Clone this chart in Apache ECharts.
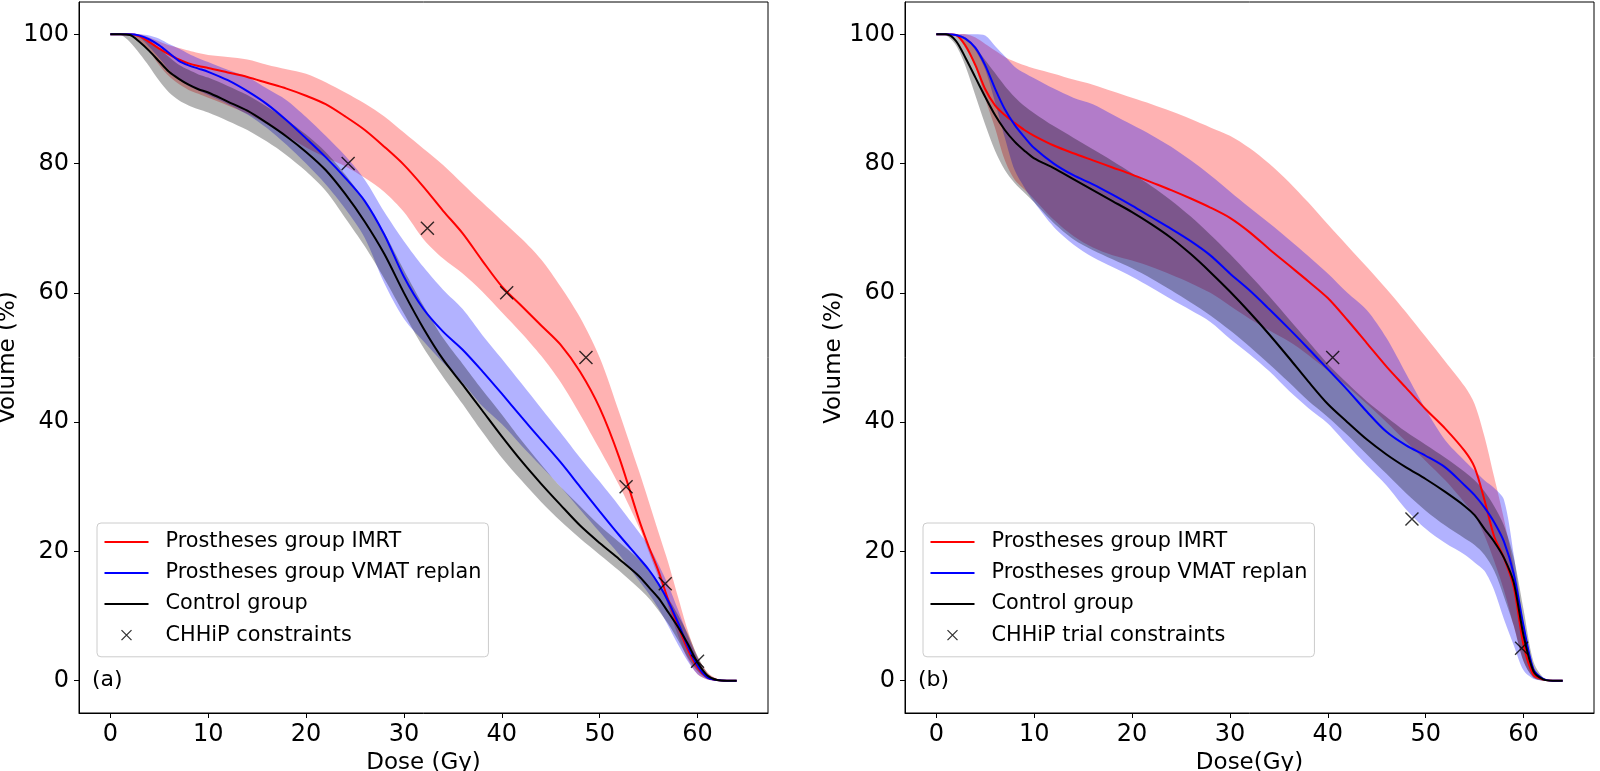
<!DOCTYPE html>
<html>
<head>
<meta charset="utf-8">
<script src="https://cdn.jsdelivr.net/npm/echarts@6/dist/echarts.min.js"></script>
<style>
html,body{margin:0;padding:0;background:#fff;}
#chart{width:1600px;height:771px;}
</style>
</head>
<body>
<div id="chart"></div>
<script>
// ---------- DATA ----------
const dose = [0,1,2,3,4,5,6,7,8,9,10,12,14,16,18,20,22,24,26,28,30,32,34,36,38,40,42,44,46,48,50,52,54,55,56,57,58,59,60,61,62,63,64];

const xTickValues = [0,10,20,30,40,50,60];
const yTickValues = [0,20,40,60,80,100];

// Panel (a)
const aImrtMean  = [100,100,100,99.7,98.8,97.8,96.9,96.1,95.5,95.1,94.8, 94.1,93.4,92.5,91.6,90.5,89.2,87.3,85.2,82.6,79.8,76.4,72.7,69.2,65,61,58,55,52,47.8,42.2,34.5,25, 20.8,17,12.5,8.5,4.8,2,0.5,0.1,0,0];
const aImrtUpper = [100,100,100,100,99.5,98.9,98.3,97.9,97.5,97.1,96.8, 96.5,96.1,95.3,94.6,93.9,92.6,91,89.3,87.3,84.8,82.3,79.8,76.9,74,71.2,68.4,65.2,61,56.2,50,41.5,32.5, 27.8,23,18.3,13,7.8,3.7,1.3,0.3,0,0];
const aImrtLower = [100,100,100,99,97.3,95.2,93.5,92.3,91.4,90.8,90.2, 89,87.7,86.1,84.3,82.5,81,79.6,77.8,75.6,72.5,68.3,65.3,63,60.2,57,53.8,50.3,46.2,41.2,35.8,30.2,23.8, 20,16,11.5,7,3.3,1,0.2,0,0,0];

const aVmatMean  = [100,100,100,99.8,99.2,98.3,97.1,95.9,95.2,94.7,94.2, 92.9,91.2,89.2,86.7,83.9,81,77.8,74.2,69,62.5,57.5,54,51.2,47.9,44.4,40.8,37.3,33.8,30,26.2,22.5,19, 17.2,15,12.3,9,5.3,2.3,0.5,0.1,0,0];
const aVmatUpper = [100,100,100,100,99.8,99.3,98.5,97.8,97,96.3,95.7, 94.5,93.4,91.6,89.8,87.2,84.3,81.2,77.5,72.5,68,64,60.5,57.5,53.5,49.8,46,42.2,38.4,34.5,30.8,27,23, 20.9,18,14.8,11,7,3.5,0.8,0.1,0,0];
const aVmatLower = [100,100,100,99.5,98,96.3,94.5,93,92,91.3,90.6, 89.2,87.6,85.5,82.9,80,76.8,73,68.5,61.5,56,52.5,49.2,46.1,42.5,39.7,36.4,33.2,30,26.5,23,19.5,15.5, 13.5,11.2,8.5,5.6,3,1,0.2,0,0,0];

const aCtrlMean  = [100,100,99.9,98.8,97.4,95.8,94.2,93.1,92.2,91.5,91, 89.6,88.2,86.3,84.2,81.8,79,75.3,71,66,60,54.5,49.7,45.8,41.8,37.8,34,30.5,27.2,24,21.3,18.8,16.2, 14.5,12.8,10.6,8.3,5.7,2.8,0.8,0.1,0,0];
const aCtrlUpper = [100,100,100,99.8,99,97.8,96.5,95.3,94.5,93.8,93.3, 92,90.6,88.8,86.8,84.5,81.8,78.3,74.2,69.3,63.5,58,53,49,45,41.2,37.2,33.5,30,27,24,21.4,18.8, 17.2,15.2,12.8,10.2,7.3,3.8,1.2,0.2,0,0];
const aCtrlLower = [100,100,98.8,97,95,92.8,91,89.8,89,88.4,87.9, 86.6,85.2,83.4,81.3,78.8,75.8,71.6,67.2,62.2,56.8,51.5,47,42.8,38.5,34.5,31,27.7,24.7,22,19.5,17,14.3, 12.8,10.9,8.8,6.3,3.6,1.5,0.3,0,0,0];

const aConstraintDose = [24.3,32.4,40.5,48.6,52.7,56.7,60];
const aConstraintVol  = [80,70,60,50,30,15,3];

// Panel (b)
const bImrtMean  = [100,100,99.9,98.2,95.2,91.5,89,87.5,86.3,85.2,84.3, 82.8,81.6,80.5,79.4,78.3,77.1,75.9,74.6,73.2,71.6,69.4,66.8,64.3,61.8,59.2,55.8,52.2,48.6,45.3,42,39,35.5, 33,28,22.3,19,14.5,5.5,0.9,0.2,0,0];
const bImrtUpper = [100,100,100,100,99.5,98.5,97.5,96.5,95.8,95.2,94.7, 93.9,93,92.2,91.2,90.2,89.2,88.1,86.9,85.6,84.3,82.4,80,77.2,74,70.6,67.3,64,60.6,57,53.2,49.4,45.5, 42.8,37.8,31.5,25,17.5,8,2,0.3,0,0];
const bImrtLower = [100,100,99.8,97.8,95,90,85.5,80.5,77.5,76,74.5, 71.3,68.8,67,65.8,65,64,62.8,61.5,60,58,56,54.2,52.5,50.4,48,45.5,42.8,40,37,34,31,27.5, 25.5,22.5,18.5,14,8.5,3,0.5,0,0,0];

const bVmatMean  = [100,100,99.9,99.3,97.9,95.2,91.6,88.4,86,84.1,82.4, 80,78.2,76.8,75.2,73.5,71.7,69.9,68,65.8,63,60.4,57.5,54.5,51.4,48.2,45,41.6,38.5,36.4,34.8,33,30.2, 28.7,26.8,24.5,21.5,16.5,8.5,1.8,0.3,0,0];
const bVmatUpper = [100,100,100,100,100,99.8,98.2,96.6,95,94,93.2, 91.6,90.2,89.2,87.6,86,84.4,82.6,80.5,78.2,75.7,73.2,70.8,68.3,65.7,63,60,57.3,53,47.5,42,37.2,34, 32.5,31,29.8,28,19.5,9,2.2,0.3,0,0];
const bVmatLower = [100,100,99.9,99.2,97.5,94.5,89.5,84,79,76.3,74, 70.2,67.5,65.5,64,62.5,60.8,59,57.3,55.5,52.9,50.5,47.9,44.9,42.2,39.8,36.5,33.3,30.2,26.5,23.5,21.3,19.5, 18.3,17,14,9.5,5.5,1.6,0.3,0,0,0];

const bCtrlMean  = [100,100,99,96.3,93.3,90.3,87.5,85.2,83.4,82,80.8, 79.3,77.6,75.9,74.2,72.5,70.6,68.5,66,63.2,60.2,57,53.6,50,46.3,42.8,40,37.3,35,33,31.2,29.2,27, 25.6,23.5,21.5,19,15.2,7,1.5,0.2,0,0];
const bCtrlUpper = [100,100,100,99.5,98,96,94,92,90.3,88.9,87.8, 85.8,84,82.2,80.4,78.5,76.5,74.3,71.8,69,66,62.8,59.5,56,52.5,49,46,43.2,40.8,38.5,36.5,34.5,32.3, 31,29.3,27,24,19,11,3,0.5,0,0];
const bCtrlLower = [100,99.8,98.3,95,90.5,86,82,79,77,75.5,74, 70.8,68.3,66.6,65.2,63.8,62.2,60.4,58.5,56.5,54.2,51.7,49,46.2,43.3,40.8,38,35,32,29,26.3,24,22, 21,19.5,17,13,8.5,3,0.5,0,0,0];

const bConstraintDose = [40.5,48.6,59.8];
const bConstraintVol  = [50,25,5];

const nameImrt = 'Prostheses group IMRT';
const nameVmat = 'Prostheses group VMAT replan';
const nameCtrl = 'Control group';
const nameConsA = 'CHHiP constraints';
const nameConsB = 'CHHiP trial constraints';

// ---------- BUILD ----------
const FONT = 'DejaVu Sans';
const SMOOTH = 0.3;
const xMark = 'path://M0,0L10,10M10,0L0,10';
const xMarkLegend = 'path://M-5,-5M0,0L10,10M10,0L0,10M15,15';

function pairs(xs, ys){ return xs.map((x,i)=>[x, ys[i]]); }

// shaded band between lower and upper, drawn through the axes' own scales
function band(g, lower, upper, color){
  return {type:'custom', xAxisIndex:g, yAxisIndex:g, silent:true, z:2,
    data:[[dose[0], upper[0]]],
    renderItem:function(params, api){
      const pts = [];
      for (let i=0;i<dose.length;i++) pts.push(api.coord([dose[i], upper[i]]));
      for (let i=dose.length-1;i>=0;i--) pts.push(api.coord([dose[i], lower[i]]));
      return {type:'polygon', shape:{points:pts, smooth:SMOOTH}, style:{fill:color, stroke:null}};
    }};
}
function meanLine(g, name, ys, color){
  return {type:'line', name:name, xAxisIndex:g, yAxisIndex:g, data:pairs(dose, ys),
    symbol:'none', smooth:SMOOTH, lineStyle:{color:color, width:2}, itemStyle:{color:color}, z:3, silent:true};
}
function cons(g, name, xs, ys){
  return {type:'scatter', name:name, xAxisIndex:g, yAxisIndex:g, data:pairs(xs, ys),
    symbol:xMark, symbolSize:13,
    itemStyle:{color:'rgba(0,0,0,0)', borderColor:'#000', borderWidth:1.4}, z:4, silent:true};
}

const series = [
  band(0, aImrtLower, aImrtUpper, 'rgba(255,0,0,0.3)'),
  band(0, aVmatLower, aVmatUpper, 'rgba(0,0,255,0.3)'),
  band(0, aCtrlLower, aCtrlUpper, 'rgba(0,0,0,0.3)'),
  meanLine(0, nameImrt, aImrtMean, '#ff0000'),
  meanLine(0, nameVmat, aVmatMean, '#0000ff'),
  meanLine(0, nameCtrl, aCtrlMean, '#000000'),
  cons(0, nameConsA, aConstraintDose, aConstraintVol),
  band(1, bImrtLower, bImrtUpper, 'rgba(255,0,0,0.3)'),
  band(1, bVmatLower, bVmatUpper, 'rgba(0,0,255,0.3)'),
  band(1, bCtrlLower, bCtrlUpper, 'rgba(0,0,0,0.3)'),
  meanLine(1, nameImrt, bImrtMean, '#ff0000'),
  meanLine(1, nameVmat, bVmatMean, '#0000ff'),
  meanLine(1, nameCtrl, bCtrlMean, '#000000'),
  cons(1, nameConsB, bConstraintDose, bConstraintVol)
];

function xAxis(g, name){
  return {type:'value', gridIndex:g, min:-3.2, max:67.2,
    axisLine:{show:true, onZero:false, lineStyle:{color:'#000', width:1}},
    axisTick:{show:true, inside:false, length:5, lineStyle:{color:'#000', width:1}, customValues:xTickValues},
    axisLabel:{show:true, customValues:xTickValues, fontSize:24, color:'#000', margin:10, fontFamily:FONT},
    splitLine:{show:false},
    name:name, nameLocation:'middle', nameGap:36,
    nameTextStyle:{fontSize:23, color:'#000', fontFamily:FONT}};
}
function yAxis(g){
  return {type:'value', gridIndex:g, min:-5, max:105,
    axisLine:{show:true, onZero:false, lineStyle:{color:'#000', width:1}},
    axisTick:{show:true, inside:false, length:5, lineStyle:{color:'#000', width:1}, customValues:yTickValues},
    axisLabel:{show:true, customValues:yTickValues, fontSize:24, color:'#000', margin:10, fontFamily:FONT},
    splitLine:{show:false},
    name:'Volume (%)', nameLocation:'middle', nameGap:57, nameRotate:90,
    nameTextStyle:{fontSize:23, color:'#000', fontFamily:FONT}};
}
const noSymbol = {color:'rgba(0,0,0,0)', borderWidth:0, opacity:0};
function legend(left, consName){
  return {show:true, orient:'vertical', left:left, top:523, selectedMode:false,
    itemWidth:44, itemHeight:20, itemGap:10,
    padding:[8.5, 7, 11, 6.5],
    backgroundColor:'rgba(255,255,255,0.8)', borderColor:'#cccccc', borderWidth:1, borderRadius:4,
    textStyle:{fontFamily:FONT, fontSize:20.8, color:'#000', padding:[0,0,0,12]},
    data:[
      {name:nameImrt, itemStyle:noSymbol},
      {name:nameVmat, itemStyle:noSymbol},
      {name:nameCtrl, itemStyle:noSymbol},
      {name:consName, icon:xMarkLegend,
       itemStyle:{color:'rgba(0,0,0,0)', borderColor:'#000', borderWidth:1.3}}]};
}

const option = {
  animation:false,
  backgroundColor:'#ffffff',
  textStyle:{fontFamily:FONT},
  title:[
    {text:'(a)', left:92, top:669, padding:0, textStyle:{fontSize:22, fontWeight:'normal', color:'#000', fontFamily:FONT}},
    {text:'(b)', left:918, top:669, padding:0, textStyle:{fontSize:22, fontWeight:'normal', color:'#000', fontFamily:FONT}}
  ],
  grid:[
    {left:79, top:2, width:689, height:711, show:true, borderColor:'#000', borderWidth:1, containLabel:false, outerBoundsMode:'none'},
    {left:905, top:2, width:689, height:711, show:true, borderColor:'#000', borderWidth:1, containLabel:false, outerBoundsMode:'none'}
  ],
  xAxis:[xAxis(0,'Dose (Gy)'), xAxis(1,'Dose(Gy)')],
  yAxis:[yAxis(0), yAxis(1)],
  legend:[legend(97, nameConsA), legend(923, nameConsB)],
  series:series
};

const chart = echarts.init(document.getElementById('chart'), null, {renderer:'canvas'});
chart.setOption(option);
</script>
</body>
</html>
